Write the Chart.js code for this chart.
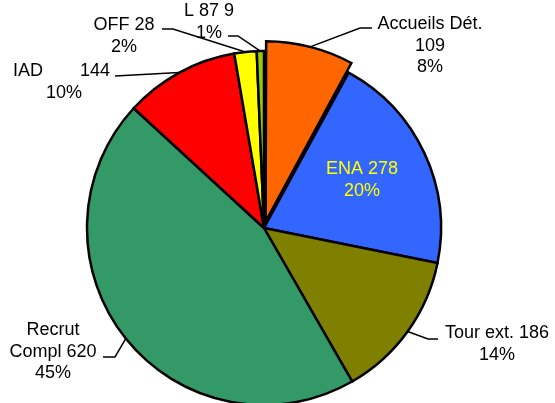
<!DOCTYPE html>
<html>
<head>
<meta charset="utf-8">
<script src="https://cdn.jsdelivr.net/npm/chart.js@4/dist/chart.umd.min.js"></script>
<style>
  html, body { margin: 0; padding: 0; background: #fff; overflow: hidden; }
  #pieGraph { display: block; }
</style>
</head>
<body>
<canvas id="pieGraph" width="555" height="403"></canvas>
<script>
// slice data, clockwise from 12 o'clock
var sliceNames = ["Accueils Dét.", "ENA", "Tour ext.", "Recrut Compl", "IAD", "OFF", "L 87"];
var sliceValues = [109, 278, 186, 620, 144, 28, 9];
var sliceColors = ["#FF6600", "#3366FF", "#808000", "#339966", "#FF0000", "#FFFF00", "#99CC00"];
// chart.js shrinks the offset internally (about /4), so 26 gives ~10px
var sliceOffsets = [26, 0, 0, 0, 0, 0, 0];

var total = sliceValues.reduce(function(a, b){ return a + b; }, 0);
var pct = sliceValues.map(function(v){ return Math.round(v / total * 100) + "%"; });

// text lines of each label
var labelLines = [
    [sliceNames[0], String(sliceValues[0]), pct[0]],
    [sliceNames[1] + " " + sliceValues[1], pct[1]],
    [sliceNames[2] + " " + sliceValues[2], pct[2]],
    ["Recrut", "Compl " + sliceValues[3], pct[3]],
    [[sliceNames[4], String(sliceValues[4])], pct[4]],
    [sliceNames[5] + " " + sliceValues[5], pct[5]],
    [sliceNames[6] + " " + sliceValues[6], pct[6]]
];

// where labels sit (layout only)
var labelLayout = [
    {x: 430, y: 29, lead: [[372, 28], [360, 28]]},
    {x: 362, y: 174, color: "#FFFF00"},
    {x: 497, y: 338, lead: [[438, 339], [428, 339]]},
    {x: 53, y: 335, lead: [[103, 357], [115, 357]]},
    {x: 64, y: 76, lead: [[115, 76]], justify: [13, 110]},
    {x: 124, y: 30, lead: [[162, 29], [173, 29]]},
    {x: 209, y: 16, lead: [[228, 36], [238, 36]]}
];

var lineHeight = 21.5;

var pieLabels = {
    id: 'pieLabels',
    afterDatasetsDraw: function(chart){
        var ctx = chart.ctx;
        var arcs = chart.getDatasetMeta(0).data;
        ctx.save();
        ctx.font = "18px 'Liberation Sans', Arial, sans-serif";
        ctx.textBaseline = "alphabetic";
        arcs.forEach(function(el, i){
            var lay = labelLayout[i];
            // leader line
            if (lay.lead) {
                var mid = (el.startAngle + el.endAngle) / 2;
                var circ = el.endAngle - el.startAngle;
                var fix = 1 - Math.sin(Math.min(Math.PI, circ));
                var off = (el.options.offset || 0) / 4 * (1 + fix);
                var ax = el.x + Math.cos(mid) * (el.outerRadius + off);
                var ay = el.y + Math.sin(mid) * (el.outerRadius + off);
                ctx.beginPath();
                ctx.strokeStyle = "#000";
                ctx.lineWidth = 1.5;
                ctx.moveTo(lay.lead[0][0], lay.lead[0][1]);
                for (var k = 1; k < lay.lead.length; k++) ctx.lineTo(lay.lead[k][0], lay.lead[k][1]);
                ctx.lineTo(ax, ay);
                ctx.stroke();
            }
            ctx.fillStyle = lay.color || "#000";
            labelLines[i].forEach(function(line, j){
                var y = lay.y + j * lineHeight;
                if (Array.isArray(line)) {
                    ctx.textAlign = "left";
                    ctx.fillText(line[0], lay.justify[0], y);
                    ctx.textAlign = "right";
                    ctx.fillText(line[1], lay.justify[1], y);
                } else {
                    ctx.textAlign = "center";
                    ctx.fillText(line, lay.x, y);
                }
            });
        });
        ctx.restore();
    }
};

var pieConfig = {
    type: 'pie',
    data: {
        labels: sliceNames,
        datasets: [{
            data: sliceValues,
            backgroundColor: sliceColors,
            borderColor: "#000",
            borderWidth: 2.5,
            borderJoinStyle: 'miter',
            offset: sliceOffsets,
            radius: 177,
            clip: false
        }]
    },
    options: {
        responsive: false,
        animation: false,
        layout: {
            padding: {left: 0, right: 27, top: 53, bottom: 0}
        },
        plugins: {
            legend: { display: false },
            tooltip: { enabled: false }
        }
    },
    plugins: [pieLabels]
};

var pieCtx = document.getElementById("pieGraph");
var pieChart = new Chart(pieCtx, pieConfig);
</script>
</body>
</html>
